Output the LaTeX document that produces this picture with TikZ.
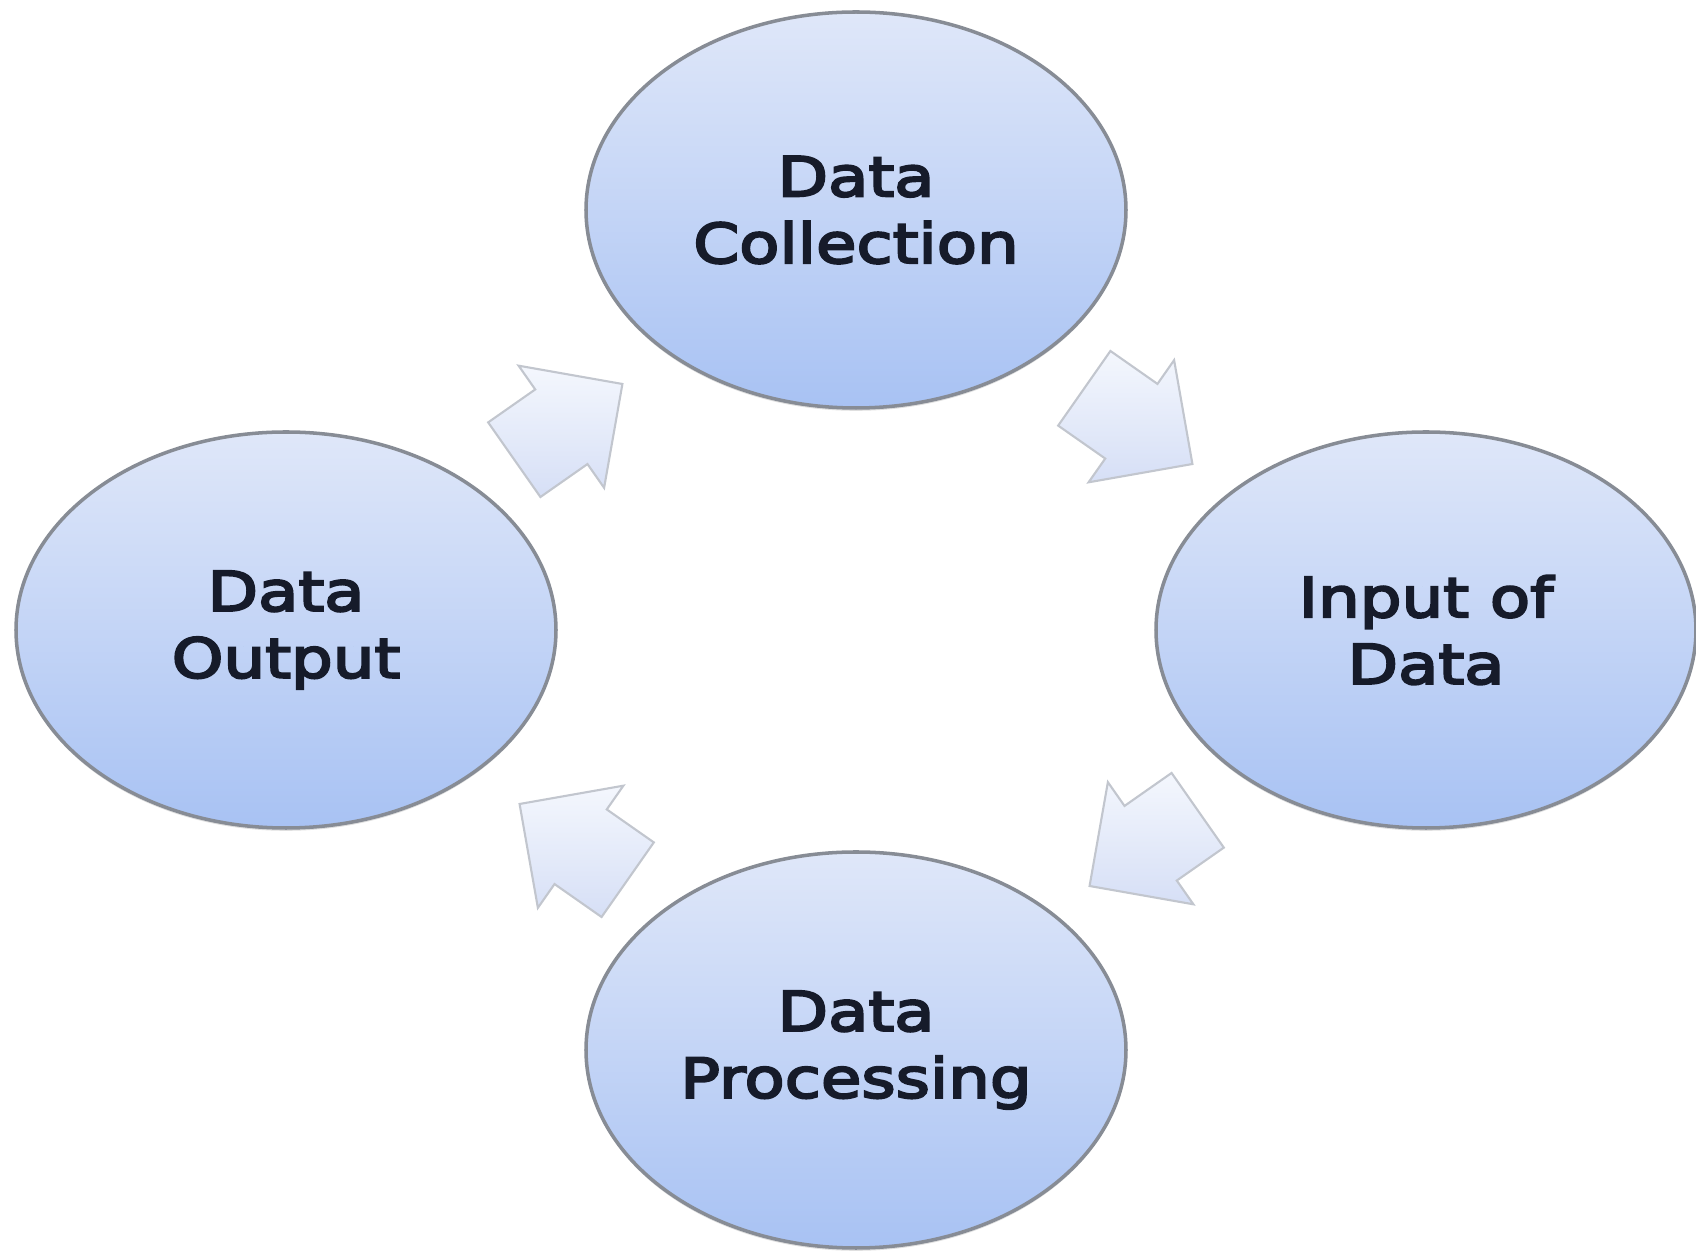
\documentclass[tikz,border=0pt]{standalone}
\usepackage{fontspec}
\usepackage{tikz}
\usetikzlibrary{shapes.geometric, shapes.arrows, positioning, calc, shadows}
\newfontfamily\stagefont[FakeStretch=1.2, FakeBold=4]{DejaVu Sans}
\definecolor{rimgray}{HTML}{878C95}
\definecolor{fillhi}{HTML}{DFE7F9}
\definecolor{filllo}{HTML}{A8C2F3}
\definecolor{arrowhi}{HTML}{F4F7FD}
\definecolor{arrowlo}{HTML}{D6DFF6}
\definecolor{arrowrim}{HTML}{C2C6CE}
\definecolor{inkdark}{HTML}{161B2A}
\tikzstyle{stage} = [ellipse, minimum width=5.4cm, minimum height=3.96cm, text centered, align=center, draw=rimgray, line width=1pt, top color=fillhi, bottom color=filllo, drop shadow={shadow xshift=0pt, shadow yshift=-0.8pt, opacity=0.25}, font=\stagefont\fontsize{15.6}{19}\selectfont, text=inkdark]
\tikzstyle{cyclearrow} = [single arrow, minimum height=1.32cm, single arrow head extend=0.29cm, inner xsep=0pt, inner ysep=0.445cm, draw=arrowrim, line width=0.6pt, top color=arrowhi, bottom color=arrowlo]

\begin{document}
\begin{tikzpicture}[node distance=4.2cm and 5.7cm, on grid]
	\useasboundingbox (0,0) rectangle (16.96,12.55);
	\node (dcol) [stage] at (8.56,10.45) {Data\\Collection};
	\node (din) [stage, below right=of dcol] {Input of\\Data};
	\node (dout) [stage, below left=of dcol] {Data\\Output};
	\node (dproc) [stage, below right=of dout] {Data\\Processing};
	% cycle arrows
	\node (a1) [cyclearrow, rotate=35, xshift=-0.26cm] at ($(dout)!0.5!(dcol)$) {};
	\node (a2) [cyclearrow, yshift=-0.08cm, rotate=-35, xshift=-0.26cm] at ($(dcol)!0.5!(din)$) {};
	\node (a3) [cyclearrow, yshift=-0.1cm, rotate=215, xshift=-0.26cm] at ($(din)!0.5!(dproc)$) {};
	\node (a4) [cyclearrow, rotate=145, xshift=-0.26cm] at ($(dproc)!0.5!(dout)$) {};
\end{tikzpicture}
\end{document}
